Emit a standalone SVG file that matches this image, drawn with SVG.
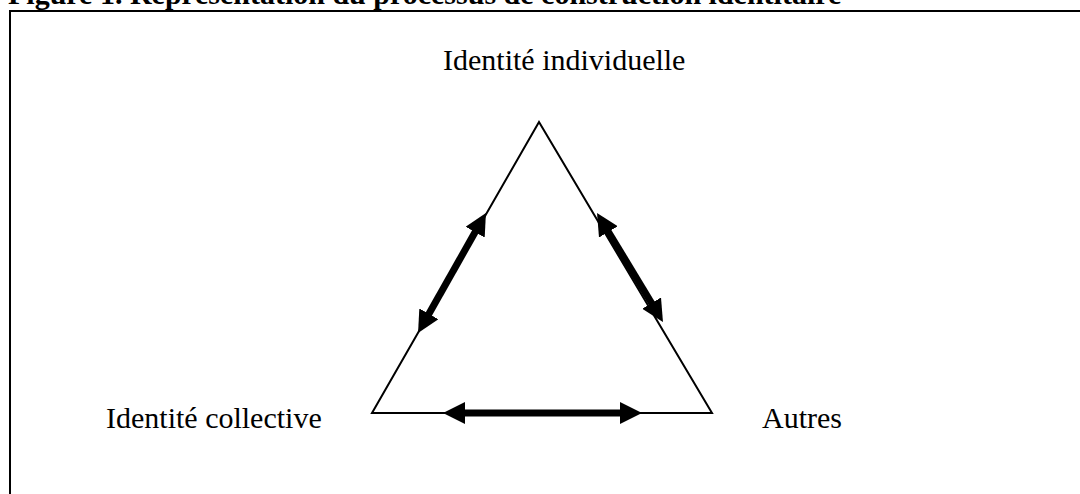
<svg xmlns="http://www.w3.org/2000/svg" width="1080" height="494" viewBox="0 0 1080 494">
<style>
.lbl{font-family:"Liberation Serif","Times New Roman",serif;font-size:30px;fill:#000}
.title{font-family:"Liberation Serif","Times New Roman",serif;font-size:30px;font-weight:bold;fill:#000}
.frame{fill:none;stroke:#000;stroke-width:2}
.tri{fill:none;stroke:#000;stroke-width:2;stroke-linejoin:miter}
.arr{stroke:#000;stroke-width:7;fill:none;marker-start:url(#head);marker-end:url(#head)}
</style>
<defs>
<marker id="head" markerUnits="userSpaceOnUse" markerWidth="22" markerHeight="22" refX="1" refY="11" orient="auto-start-reverse" viewBox="0 0 22 22">
<path d="M0,0 L22,11 L0,22 Z" fill="#000"/>
</marker>
</defs>
<text class="title" x="8" y="4">Figure 1. Représentation du processus de construction identitaire</text>
<path class="frame" d="M10,494 L10,11 L1080,11"/>
<g id="triangle">
<polygon class="tri" points="539,122 372,413 712,413"/>
</g>
<g id="n-individuelle"><text class="lbl" x="443" y="70">Identité individuelle</text></g>
<g id="n-collective"><text class="lbl" x="106" y="428">Identité collective</text></g>
<g id="n-autres"><text class="lbl" x="762" y="428">Autres</text></g>
<g id="connectors">
<line class="arr" x1="475.6" y1="231.3" x2="428.4" y2="314.7"/>
<line class="arr" x1="607.9" y1="231" x2="652.1" y2="304"/>
<line class="arr" x1="464" y1="413" x2="621" y2="413"/>
</g>
</svg>
